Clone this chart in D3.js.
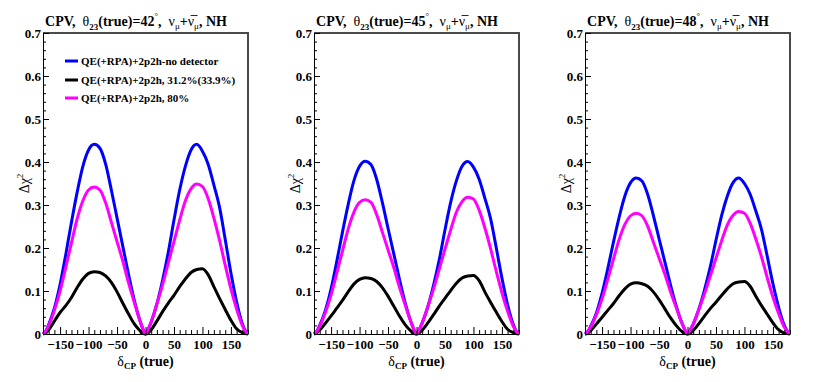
<!DOCTYPE html>
<html>
<head>
<meta charset="utf-8">
<script src="https://cdn.jsdelivr.net/npm/d3@7"></script>
<style>
  body { margin: 0; background: #fff; }
  text { font-family: "Liberation Serif", "Times New Roman", serif; }
</style>
</head>
<body>
<script>
  var width = 817;
  var height = 382;

  // delta_CP (true) sample points, degrees
  var deltaCP = [-180, -175, -170, -160, -150, -140, -130, -120, -110, -100, -90, -80, -70, -60, -50, -40, -30, -20, -10, -5, 0,
                 5, 10, 20, 30, 40, 50, 60, 70, 80, 90, 100, 110, 120, 130, 140, 150, 160, 170, 175, 180];

  // theta23 = 42
  var blue42 = [0, 0.007, 0.022, 0.06, 0.115, 0.185, 0.26, 0.33, 0.39, 0.428, 0.441, 0.432, 0.395, 0.335, 0.27, 0.205, 0.14, 0.08, 0.032, 0.013, 0,
                0.012, 0.028, 0.07, 0.125, 0.19, 0.265, 0.335, 0.39, 0.428, 0.441, 0.425, 0.395, 0.347, 0.295, 0.22, 0.142, 0.075, 0.024, 0.008, 0];
  var black42 = [0, 0.003, 0.01, 0.03, 0.05, 0.066, 0.085, 0.108, 0.128, 0.141, 0.145, 0.143, 0.135, 0.12, 0.098, 0.072, 0.047, 0.024, 0.008, 0.002, 0,
                 0.003, 0.01, 0.03, 0.052, 0.072, 0.09, 0.11, 0.128, 0.143, 0.15, 0.152, 0.138, 0.11, 0.083, 0.057, 0.032, 0.012, 0.003, 0.001, 0];
  var magenta42 = [0, 0.007, 0.02, 0.055, 0.1, 0.155, 0.212, 0.268, 0.31, 0.335, 0.342, 0.335, 0.305, 0.26, 0.215, 0.17, 0.12, 0.075, 0.032, 0.013, 0,
                   0.012, 0.028, 0.07, 0.115, 0.165, 0.215, 0.265, 0.31, 0.338, 0.349, 0.343, 0.315, 0.27, 0.218, 0.16, 0.105, 0.058, 0.02, 0.007, 0];

  // theta23 = 45
  var blue45 = [0, 0.006, 0.02, 0.055, 0.105, 0.169, 0.237, 0.301, 0.356, 0.39, 0.402, 0.394, 0.36, 0.306, 0.246, 0.187, 0.128, 0.073, 0.029, 0.012, 0,
                0.011, 0.026, 0.064, 0.114, 0.173, 0.242, 0.306, 0.356, 0.39, 0.401, 0.388, 0.36, 0.316, 0.269, 0.201, 0.13, 0.068, 0.022, 0.007, 0];
  var black45 = [0, 0.003, 0.009, 0.025, 0.042, 0.06, 0.078, 0.098, 0.116, 0.127, 0.131, 0.129, 0.122, 0.108, 0.088, 0.065, 0.042, 0.022, 0.007, 0.002, 0,
                 0.003, 0.009, 0.026, 0.045, 0.065, 0.083, 0.101, 0.118, 0.13, 0.135, 0.136, 0.124, 0.098, 0.074, 0.051, 0.029, 0.011, 0.003, 0.001, 0];
  var magenta45 = [0, 0.006, 0.018, 0.05, 0.091, 0.141, 0.193, 0.244, 0.283, 0.306, 0.312, 0.306, 0.278, 0.237, 0.196, 0.155, 0.109, 0.068, 0.029, 0.012, 0,
                   0.011, 0.026, 0.064, 0.105, 0.151, 0.197, 0.242, 0.283, 0.308, 0.318, 0.314, 0.288, 0.247, 0.199, 0.146, 0.096, 0.053, 0.018, 0.006, 0];

  // theta23 = 48
  var blue48 = [0, 0.006, 0.018, 0.049, 0.095, 0.152, 0.214, 0.272, 0.321, 0.352, 0.363, 0.356, 0.325, 0.276, 0.222, 0.169, 0.115, 0.066, 0.026, 0.011, 0,
                0.01, 0.023, 0.058, 0.103, 0.156, 0.218, 0.276, 0.321, 0.352, 0.363, 0.35, 0.325, 0.286, 0.243, 0.181, 0.117, 0.062, 0.02, 0.007, 0];
  var black48 = [0, 0.002, 0.008, 0.023, 0.039, 0.055, 0.071, 0.089, 0.105, 0.116, 0.119, 0.117, 0.111, 0.098, 0.08, 0.059, 0.038, 0.02, 0.006, 0.002, 0,
                 0.002, 0.008, 0.024, 0.042, 0.059, 0.074, 0.09, 0.105, 0.117, 0.121, 0.122, 0.111, 0.088, 0.066, 0.046, 0.026, 0.01, 0.002, 0.001, 0];
  var magenta48 = [0, 0.006, 0.016, 0.045, 0.082, 0.127, 0.174, 0.22, 0.255, 0.275, 0.281, 0.275, 0.251, 0.214, 0.177, 0.14, 0.099, 0.062, 0.026, 0.011, 0,
                   0.01, 0.023, 0.057, 0.094, 0.135, 0.176, 0.217, 0.254, 0.276, 0.285, 0.281, 0.258, 0.221, 0.179, 0.131, 0.086, 0.048, 0.016, 0.006, 0];

  var thetaTrue = ["42", "45", "48"];
  var xTicks = [-150, -100, -50, 0, 50, 100, 150];
  var yTicks = [0, 0.1, 0.2, 0.3, 0.4, 0.5, 0.6, 0.7];
  var legendLabels = ["QE(+RPA)+2p2h-no detector", "QE(+RPA)+2p2h, 31.2%(33.9%)", "QE(+RPA)+2p2h, 80%"];
  var colors = ["#0000ff", "#000000", "#ff00ff"];

  var panels = [
    { theta: thetaTrue[0], series: [blue42, black42, magenta42] },
    { theta: thetaTrue[1], series: [blue45, black45, magenta45] },
    { theta: thetaTrue[2], series: [blue48, black48, magenta48] }
  ];

  var svg = d3.select("body").append("svg")
    .attr("width", width)
    .attr("height", height);

  var xMinor = d3.range(-180, 181, 10).filter(function(v) { return v % 50 !== 0; });
  var yMinor = d3.range(0, 36).map(function(i) { return i * 0.02; }).filter(function(v, i) { return i % 5 !== 0; });

  panels.forEach(function(p, i) {
    var ox = i * 271;
    var left = ox + 43, right = ox + 248, top = 33, bottom = 334;

    var x = d3.scaleLinear().domain([-180, 180]).range([left, right]);
    var y = d3.scaleLinear().domain([0, 0.7]).range([bottom, top]);

    var g = svg.append("g");

    // frame (top + right)
    g.append("path")
      .attr("d", "M" + left + "," + top + "H" + right + "V" + bottom)
      .attr("fill", "none")
      .attr("stroke", "#4a4a4a")
      .attr("stroke-width", 2);

    // curves
    var line = d3.line()
      .x(function(d, k) { return x(deltaCP[k]); })
      .y(function(d) { return y(d); })
      .curve(d3.curveMonotoneX);

    p.series.forEach(function(s, k) {
      g.append("path")
        .datum(s)
        .attr("d", line)
        .attr("fill", "none")
        .attr("stroke", colors[k])
        .attr("stroke-width", 3);
    });

    // x axis
    var xAxis = g.append("g")
      .attr("transform", "translate(0," + bottom + ")")
      .call(d3.axisBottom(x).tickValues(xTicks).tickSizeInner(-7).tickSizeOuter(0).tickPadding(6).tickFormat(d3.format("d")));
    g.append("g")
      .attr("transform", "translate(0," + bottom + ")")
      .call(d3.axisBottom(x).tickValues(xMinor).tickSizeInner(-4).tickSizeOuter(0).tickFormat(""))
      .select(".domain").remove();

    // y axis
    var yAxis = g.append("g")
      .attr("transform", "translate(" + left + ",0)")
      .call(d3.axisLeft(y).tickValues(yTicks).tickSizeInner(-6).tickSizeOuter(0).tickPadding(2)
        .tickFormat(function(d) { return d === 0 ? "0" : d.toFixed(1); }));
    g.append("g")
      .attr("transform", "translate(" + left + ",0)")
      .call(d3.axisLeft(y).tickValues(yMinor).tickSizeInner(-3).tickSizeOuter(0).tickFormat(""))
      .select(".domain").remove();

    g.selectAll(".tick text")
      .attr("font-family", "Liberation Serif")
      .attr("font-weight", "bold")
      .attr("font-size", 13)
      .attr("fill", "#000");
    g.selectAll(".domain, .tick line").attr("stroke", "#000");

    // title
    var t = g.append("text")
      .attr("x", ox + 136)
      .attr("y", 26)
      .attr("text-anchor", "middle")
      .attr("font-size", 14)
      .attr("font-weight", "bold")
      .style("white-space", "pre");
    t.append("tspan").text("CPV,  ");
    t.append("tspan").attr("font-weight", "normal").text("\u03b8");
    t.append("tspan").attr("font-size", 9).attr("dy", 4).text("23");
    t.append("tspan").attr("dy", -4).text("(true)=" + p.theta);
    t.append("tspan").attr("font-size", 9).attr("dy", -7).attr("font-weight", "normal").text("\u00b0");
    t.append("tspan").attr("dy", 7).text(",  ");
    t.append("tspan").attr("font-weight", "normal").text("\u03bd");
    t.append("tspan").attr("font-size", 9).attr("dy", 3).attr("font-weight", "normal").text("\u03bc");
    t.append("tspan").attr("dy", -3).text("+");
    t.append("tspan").attr("font-weight", "normal").text("\u03bd\u0305");
    t.append("tspan").attr("font-size", 9).attr("dy", 3).attr("font-weight", "normal").text("\u03bc");
    t.append("tspan").attr("dy", -3).text(", NH");

    // x axis title
    var xt = g.append("text")
      .attr("x", (left + right) / 2)
      .attr("y", 366)
      .attr("text-anchor", "middle")
      .attr("font-size", 14)
      .attr("font-weight", "bold")
      .style("white-space", "pre");
    xt.append("tspan").attr("font-weight", "normal").text("\u03b4");
    xt.append("tspan").attr("font-size", 9).attr("dy", 3).text("CP");
    xt.append("tspan").attr("dy", -3).text(" (true)");

    // y axis title
    var yt = g.append("text")
      .attr("transform", "translate(" + (ox + 29) + "," + ((top + bottom) / 2) + ") rotate(-90)")
      .attr("text-anchor", "middle")
      .attr("font-size", 14);
    yt.append("tspan").text("\u0394\u03c7");
    yt.append("tspan").attr("font-size", 9).attr("dy", -6).text("2");
  });

  // legend (first panel)
  var legend = svg.append("g");
  var legendY = [61, 80, 98];
  legendLabels.forEach(function(label, k) {
    legend.append("line")
      .attr("x1", 65).attr("x2", 78)
      .attr("y1", legendY[k]).attr("y2", legendY[k])
      .attr("stroke", colors[k])
      .attr("stroke-width", 3);
    legend.append("text")
      .attr("x", 81)
      .attr("y", legendY[k] + 4)
      .attr("font-size", 11)
      .attr("font-weight", "bold")
      .text(label);
  });
</script>
</body>
</html>
